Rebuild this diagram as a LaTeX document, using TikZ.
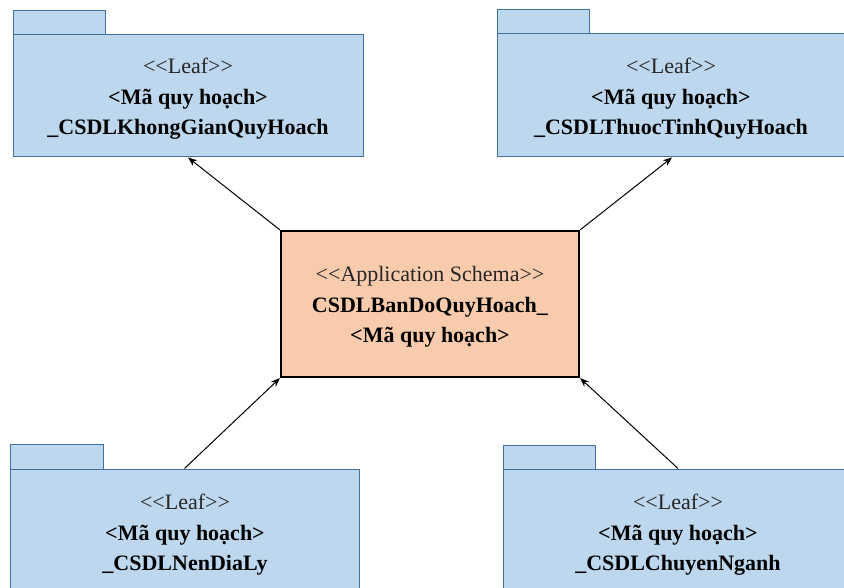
\documentclass[tikz,border=0pt]{standalone}
\usepackage{fontspec}
\setmainfont{Liberation Serif}
\usetikzlibrary{arrows.meta}
\definecolor{pkgfill}{HTML}{BDD7EE}
\definecolor{pkgdraw}{HTML}{41719C}
\definecolor{appfill}{HTML}{F8CBAD}
\definecolor{stereo}{HTML}{262626}
\tikzset{
  pkgbody/.style={draw=pkgdraw, fill=pkgfill, line width=1pt, minimum width=350pt, inner sep=0pt},
  txt/.style={align=center, inner sep=0pt, font=\fontsize{22}{30.5}\selectfont},
  pkgtab/.style={draw=pkgdraw, fill=pkgfill, line width=1pt, minimum width=92pt, minimum height=24pt, inner sep=0pt},
  appbox/.style={draw=black, fill=appfill, line width=2.2pt, minimum width=298pt, minimum height=146pt, inner sep=0pt},
  conn/.style={draw=black, line width=1pt, -{Stealth[length=9pt,width=7pt]}}
}
\newcommand{\stt}[1]{\textcolor{stereo}{#1}}
\begin{document}
\begin{tikzpicture}[x=1pt,y=-1pt]
\useasboundingbox (0,0) rectangle (844,588);
\clip (0,0) rectangle (844,588);
% top-left package
\node[pkgtab] (tltab) at (59,23) {};
\node[pkgbody, minimum height=122pt] (tl) at (188,96) {};
\node[txt] (tltxt) at (188,99) {\stt{<{}<Leaf>{}>}\\\textbf{<Mã quy hoạch>}\\\textbf{\_CSDLKhongGianQuyHoach}};
% top-right package
\node[pkgtab] (trtab) at (543,22) {};
\node[pkgbody, minimum height=123pt] (tr) at (672,95.5) {};
\node[txt] (trtxt) at (671,99) {\stt{<{}<Leaf>{}>}\\\textbf{<Mã quy hoạch>}\\\textbf{\_CSDLThuocTinhQuyHoach}};
% bottom-left package
\node[pkgtab, minimum width=93pt, minimum height=25pt] (bltab) at (56.5,456.5) {};
\node[pkgbody, minimum width=349pt, minimum height=128pt] (bl) at (184.5,533) {};
\node[txt] (bltxt) at (185,535) {\stt{<{}<Leaf>{}>}\\\textbf{<Mã quy hoạch>}\\\textbf{\_CSDLNenDiaLy}};
% bottom-right package
\node[pkgtab] (brtab) at (549,457) {};
\node[pkgbody, minimum height=128pt] (br) at (678,533) {};
\node[txt] (brtxt) at (678,535) {\stt{<{}<Leaf>{}>}\\\textbf{<Mã quy hoạch>}\\\textbf{\_CSDLChuyenNganh}};
% center
\node[appbox] (app) at (430,304) {};
\node[txt] (apptxt) at (430,307) {\stt{<{}<Application Schema>{}>}\\\textbf{CSDLBanDoQuyHoach\_}\\\textbf{<Mã quy hoạch>}};
% connectors
\draw[conn] (app.north west) -- (tl.south);
\draw[conn] (app.north east) -- (tr.south);
\draw[conn] (bl.north) -- (app.south west);
\draw[conn] (br.north) -- (app.south east);
\end{tikzpicture}
\end{document}
